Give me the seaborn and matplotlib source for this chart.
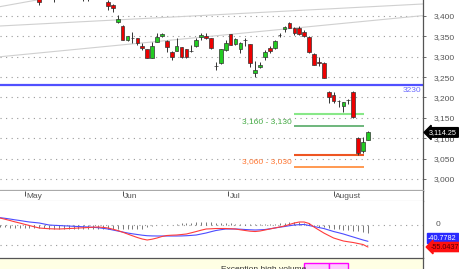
import matplotlib
matplotlib.use("Agg")
import matplotlib.pyplot as plt
import matplotlib.transforms as mtransforms
from matplotlib.patches import Rectangle
import seaborn as sns

# ---------------- data ----------------
day = [8, 11, 17, 18] + list(range(22, 76))
open_p = [3451.5, 3450, 3455, 3450,
          3435, 3427, 3386, 3375.5, 3340, 3346, 3346, 3326, 3319, 3297,
          3336, 3351, 3338.5, 3311.7, 3314, 3324, 3319, 3314, 3326, 3348.5,
          3351, 3346, 3278.5, 3284.7, 3316.6, 3356, 3331.3, 3319, 3341, 3331,
          3260, 3275, 3299.4, 3321.5, 3321.5, 3353, 3368, 3383, 3370.6, 3370.6,
          3360.7, 3348.5, 3306.8, 3287, 3284.7, 3213.5, 3206, 3191.4, 3179, 3194,
          3213.5, 3100.6, 3068.7, 3095.7]
high_p = [3458, 3460, 3462, 3458,
          3439, 3429.5, 3402.5, 3377, 3352, 3361, 3347, 3334, 3320, 3336,
          3358, 3358, 3340, 3313, 3346, 3325, 3320, 3329, 3346, 3358,
          3358, 3347, 3287, 3320, 3341, 3357, 3346, 3335, 3346, 3332,
          3289.6, 3287, 3316.6, 3326, 3341, 3358, 3375.5, 3385, 3373, 3375.5,
          3365.6, 3350, 3308, 3299.4, 3286, 3215, 3213.5, 3194, 3190, 3196,
          3215, 3102, 3103, 3118]
low_p = [3427, 3435.6, 3436, 3436,
         3414.7, 3410, 3383, 3340, 3338, 3334, 3329, 3316.6, 3296, 3296,
         3335, 3348.5, 3311.7, 3292, 3313, 3298, 3298, 3311.7, 3324, 3341,
         3343.6, 3320, 3267.5, 3283, 3315, 3328, 3329, 3309, 3326, 3275,
         3250, 3272, 3292, 3309, 3320, 3348.5, 3360.8, 3370, 3353.4, 3353.4,
         3348.5, 3310, 3279, 3277, 3247, 3186.5, 3186.5, 3177, 3164.4, 3184,
         3149.7, 3059, 3063.8, 3095]
close_p = [3433.6, 3445, 3448, 3452,
           3424.5, 3419, 3392.6, 3341, 3351, 3345, 3334, 3321.5, 3297, 3326.4,
           3348.5, 3356, 3324, 3299.4, 3326, 3299, 3299.4, 3313, 3341, 3353,
           3346, 3321.5, 3277, 3319, 3334, 3329, 3343.6, 3334, 3342, 3284.7,
           3267.5, 3280, 3311.7, 3314, 3338.7, 3354, 3373, 3370.6, 3358.3, 3356,
           3351, 3311.7, 3280, 3284.7, 3248, 3201, 3191.4, 3192, 3189, 3193.5,
           3152, 3063.8, 3090.8, 3114.25]

macd_day = list(range(0, 76))
macd_line = [17.5, 14.5, 11.3, 8, 5, 1.8, -1.3, -4.5, -7.5, -8.5,
             -9.3, -9.8, -10, -9.5, -8.8, -8.3, -7.5, -7, -6.3, -5.5,
             -5, -6, -7.5, -10.5, -13.8, -18, -22.5, -27, -31.3, -35,
             -37.5, -35.5, -32.5, -28.8, -26.3, -25.5, -25, -23.8, -22.5, -19.5,
             -16.3, -13, -10, -9.5, -8.8, -8.8, -8.8, -9.3, -10, -12,
             -13.8, -15.5, -16.3, -15, -12.5, -10, -7.5, -5, -2.5, 1.3,
             5, 7.5, 7.5, 3.8, -5, -12.5, -20, -26.3, -32.5, -36.3,
             -40, -42, -43.8, -46.3, -48.8, -55.04]
signal_line = [18.3, 16.8, 15, 13, 11.3, 9.3, 7.5, 6.3, 5, 2.5,
               0, -0.8, -1.3, -2, -2.5, -3.3, -3.8, -4.5, -5, -5.8,
               -6.8, -8.3, -10, -12.5, -15, -17.5, -20, -22, -23.8, -25.5,
               -26.8, -27.3, -27.5, -27.5, -27.5, -27.5, -27.5, -27.3, -26.8, -26,
               -25, -22.5, -20, -16.8, -13.8, -11.8, -10, -10, -10, -10.5,
               -11.3, -12, -12.5, -12, -11.3, -9.5, -7.5, -5.5, -3.8, -1.8,
               0, 0.8, 1.3, -1.3, -3.8, -6.3, -8.8, -12.5, -16.3, -19.3,
               -22.5, -26.3, -30, -33.8, -37.5, -40.78]
hist = [-6, -6, -7, -7, -7, -7, -8, -8, -8, -8,
        -9, -9, -9, -10, -10, -10, -10, -9, -9, -9,
        -9, -9, -9, -10, -10, -10, -10, -11, -11, -11,
        -4, -2, -1, 0, 1, 1, 2,
        4, 5, 6, 7, 7, 7, 7, 6, 6, 5, 5,
        3, 3, 2, 2, 2, 2, 2, 3, 3,
        5, 6, 7, 7, 7, 6, 4,
        -2, -4, -6, -8, -10, -11, -12, -13, -14, -15, -17, -19]

price_ticks = [3000, 3050, 3100, 3150, 3200, 3250, 3300, 3350, 3400]
month_labels = ["May", "Jun", "Jul", "August"]
month_pos = [5, 25, 46.5, 68]

support_level = 3230
support_label = "3230"
zone_labels = ["3,160 - 3,130", "3,060 - 3,030"]
zone_upper = [3160, 3060]
zone_lower = [3130, 3030]
zone_from, zone_to = 60, 74.2

trend_x = [[0, 86.2], [0, 86.2], [0, 15]]
trend_y = [[3300, 3401], [3375.5, 3429.5], [3423, 3455.5]]

last_price = 3114.25
macd_last = -55.0437
signal_last = -40.7782
footer_text = "Exception high volume"

# ---------------- figure ----------------
sns.set_theme(style="white")
plt.rcParams['font.family'] = ['Liberation Sans', 'DejaVu Sans']

W, H = 459, 269
fig = plt.figure(figsize=(W / 100, H / 100), dpi=100, facecolor='white')
XMAX = 423 / 4.906
axw = 423 / W

ax_p = fig.add_axes([0, 1 - 191 / H, axw, 191 / H])
ax_d = fig.add_axes([0, 68 / H, axw, 10 / H])
ax_m = fig.add_axes([0, 11 / H, axw, 57 / H])
ax_b = fig.add_axes([0, 0, axw, 11 / H])

for a in (ax_p, ax_d, ax_m, ax_b):
    a.set_xlim(0, XMAX)
    a.set_facecolor('white')
    for s in a.spines.values():
        s.set_visible(False)
    a.spines['right'].set_visible(True)
    a.spines['right'].set_color('#555555')
    a.spines['right'].set_linewidth(0.9)
    a.set_xticks([])

# ---- price panel ----
ax_p.set_ylim(2970.5, 3439.3)
for yv in price_ticks:
    ax_p.axhline(yv, color='#999999', lw=0.8, ls=(0, (1, 4)), zorder=0)

for tx, ty in zip(trend_x, trend_y):
    sns.lineplot(x=tx, y=ty, ax=ax_p, color='#d0d0d0', lw=0.8, zorder=1)

ax_p.axhline(support_level, color='#5050ff', lw=1.6, zorder=2)
ax_p.text(XMAX - 0.3, support_level - 4, support_label, ha='right', va='top',
          fontsize=6, color='#6a6aff', zorder=3)

zone_cols = [('#88e888', '#55aa66'), ('#ee5522', '#ff8833')]
zone_txt = ['#44aa44', '#ff7733']
for k in range(2):
    ax_p.hlines(zone_upper[k], zone_from, zone_to, color=zone_cols[k][0], lw=1.5, zorder=2)
    ax_p.hlines(zone_lower[k], zone_from, zone_to, color=zone_cols[k][1], lw=1.2, zorder=2)
    ax_p.text(zone_from - 0.5, (zone_upper[k] + zone_lower[k]) / 2 - 3, zone_labels[k],
              ha='right', va='center', fontsize=6, color=zone_txt[k], zorder=3)

body_cols = []
for o, c in zip(open_p, close_p):
    if abs(c - o) < 1.5:
        body_cols.append('black')
    elif c < o:
        body_cols.append('#ee0000')
    else:
        body_cols.append('#22cc22')
ax_p.vlines(day, low_p, high_p, color='#333333', lw=0.7, zorder=4)
ax_p.bar(day, [max(abs(c - o), 0.6) for o, c in zip(open_p, close_p)],
         bottom=[min(o, c) for o, c in zip(open_p, close_p)], width=0.75,
         color=body_cols, edgecolor='#333333', linewidth=0.5, zorder=5)

ax_p.yaxis.tick_right()
ax_p.set_yticks(price_ticks)
ax_p.set_yticklabels([f"{v:,}" for v in price_ticks])
ax_p.tick_params(axis='y', length=2.5, width=0.6, color='#555555', labelsize=6,
                 labelcolor='#555555', pad=5, right=True)
ax_p.spines['bottom'].set_visible(True)
ax_p.spines['bottom'].set_color('#aaaaaa')
ax_p.spines['bottom'].set_linewidth(1.6)

trans_p = mtransforms.blended_transform_factory(ax_p.transAxes, ax_p.transData)
ax_p.text(1.0145, last_price, f"{last_price:,.2f}", transform=trans_p, ha='left', va='center',
          fontsize=5.2, color='white', clip_on=False, zorder=10,
          bbox=dict(boxstyle='larrow,pad=0.18', fc='black', ec='black'))

# ---- date band ----
ax_d.set_ylim(0, 1)
ax_d.set_yticks([])
ax_d.spines['bottom'].set_visible(True)
ax_d.spines['bottom'].set_color('#aaaaaa')
ax_d.spines['bottom'].set_linewidth(0.8)
ax_d.vlines(month_pos, 0.55, 1.0, color='#333333', lw=0.6)
for mp, ml in zip(month_pos, month_labels):
    ax_d.text(mp + 0.35, 0.45, ml, ha='left', va='center', fontsize=6, color='#555555')

# ---- MACD panel ----
ax_m.set_ylim(-82.5, 60)
ax_m.set_yticks([])
for yv in (0, -50):
    ax_m.axhline(yv, color='#999999', lw=0.8, ls=(0, (1, 4)), zorder=0)
ax_m.vlines(macd_day, 0, hist, color='#444444', lw=0.5, zorder=1)
sns.lineplot(x=macd_day, y=signal_line, ax=ax_m, color='#4c4cff', lw=0.8, zorder=3)
sns.lineplot(x=macd_day, y=macd_line, ax=ax_m, color='#ff3b3b', lw=0.8, zorder=3)
trans_m = mtransforms.blended_transform_factory(ax_m.transAxes, ax_m.transData)
ax_m.text(1.035, 0, "0", transform=trans_m, ha='center', va='center', fontsize=6,
          color='#555555', clip_on=False)
ax_m.text(1.012, -32.5, f"{signal_last:.4f}", transform=trans_m, ha='left', va='center',
          fontsize=5.2, color='white', clip_on=False,
          bbox=dict(boxstyle='square,pad=0.15', fc='#2a2aff', ec='#2a2aff'))
ax_m.text(1.019, macd_last, f"{macd_last:.4f}", transform=trans_m, ha='left', va='center',
          fontsize=5.2, color='#550000', clip_on=False,
          bbox=dict(boxstyle='larrow,pad=0.15', fc='#ff1010', ec='#ff1010'))

# ---- bottom strip ----
ax_b.set_facecolor('#ffffe4')
ax_b.set_ylim(0, 1)
ax_b.set_xlim(0, 1)
ax_b.set_yticks([])
ax_b.spines['top'].set_visible(True)
ax_b.spines['top'].set_color('#555555')
ax_b.spines['top'].set_linewidth(0.9)
ax_b.text(221 / 423, 0.3, footer_text, ha='left', va='top', fontsize=6, color='#333333')
ax_b.add_patch(Rectangle((304 / 423, -0.2), 25 / 423, 0.75, fc='#ffccff', ec='#ff00ff', lw=1))
ax_b.add_patch(Rectangle((329 / 423, -0.2), 19 / 423, 0.75, fc='#ffccff', ec='#ff00ff', lw=1))

fig.savefig("out.png", dpi=100, facecolor='white')
